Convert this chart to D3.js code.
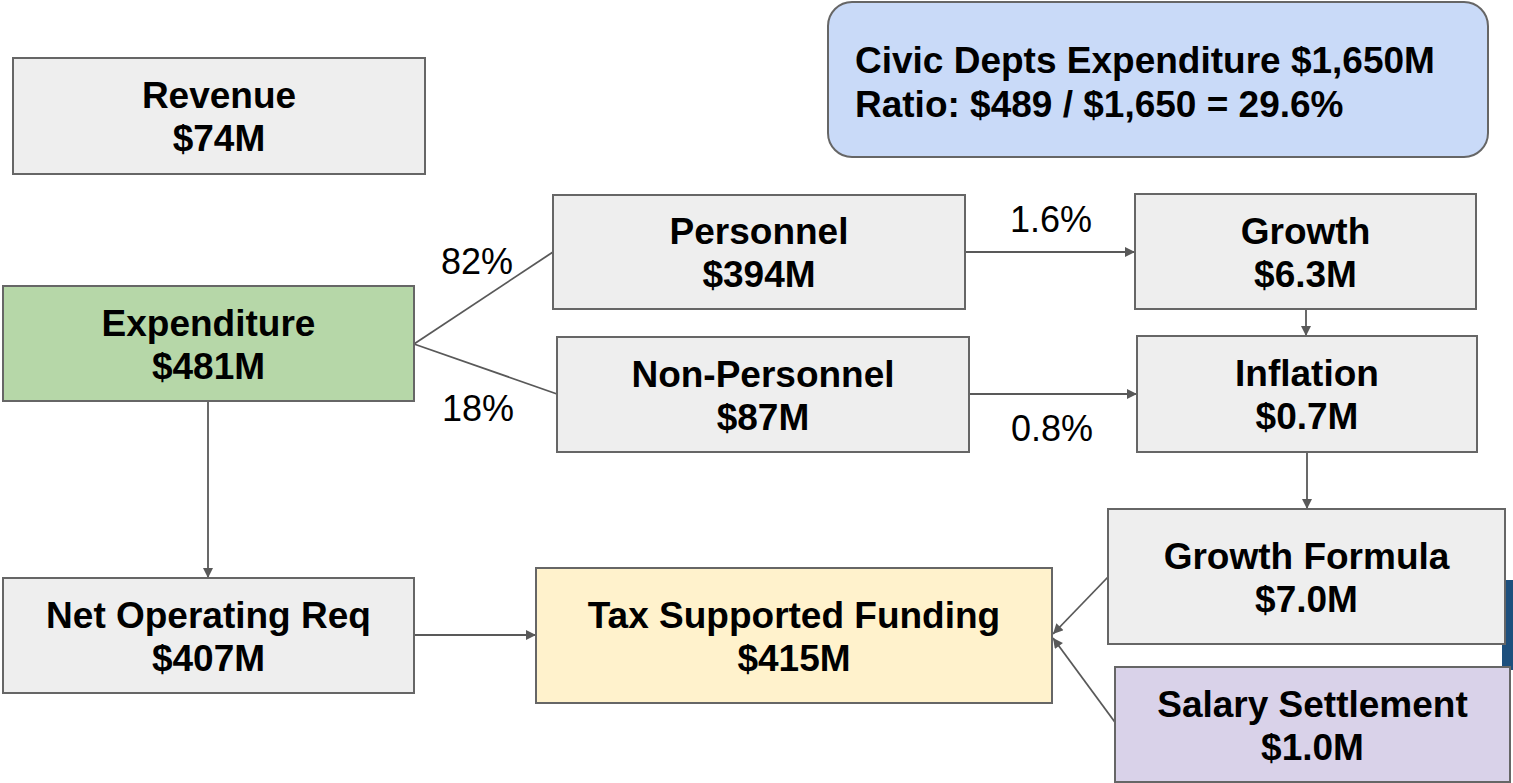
<!DOCTYPE html>
<html>
<head>
<meta charset="utf-8">
<script src="https://cdn.jsdelivr.net/npm/d3@7"></script>
<style>
  html, body { margin: 0; padding: 0; background: #fff; }
  svg { display: block; font-family: "Liberation Sans", Arial, sans-serif; }
</style>
</head>
<body>
<div id="chart"></div>
<script>
// Datos del diagrama
const nodeNames = ["Revenue", "Expenditure", "Personnel", "Non-Personnel", "Growth", "Inflation",
                   "Growth Formula", "Net Operating Req", "Tax Supported Funding", "Salary Settlement"];
const nodeValues = ["$74M", "$481M", "$394M", "$87M", "$6.3M", "$0.7M", "$7.0M", "$407M", "$415M", "$1.0M"];
const nodeKinds = ["plain", "expense", "plain", "plain", "plain", "plain", "plain", "plain", "funding", "salary"];
const noteLines = ["Civic Depts Expenditure $1,650M", "Ratio: $489 / $1,650 = 29.6%"];
const shareLabels = ["82%", "18%", "1.6%", "0.8%"];
// enlaces: [origen, destino]
const linkFrom = ["Expenditure", "Expenditure", "Personnel", "Non-Personnel", "Growth", "Inflation",
                  "Expenditure", "Net Operating Req", "Growth Formula", "Salary Settlement"];
const linkTo = ["Personnel", "Non-Personnel", "Growth", "Inflation", "Inflation", "Growth Formula",
                "Net Operating Req", "Tax Supported Funding", "Tax Supported Funding", "Tax Supported Funding"];

// Disposición (posiciones en pantalla)
const W = 1513, H = 783;
const boxLayout = {
  "Revenue":               [13, 58, 412, 116],
  "Expenditure":           [3, 286, 411, 115],
  "Personnel":             [553, 195, 412, 114],
  "Non-Personnel":         [557, 337, 412, 115],
  "Growth":                [1135, 194, 341, 115],
  "Inflation":             [1137, 336, 340, 116],
  "Growth Formula":        [1108, 509, 397, 135],
  "Net Operating Req":     [3, 578, 411, 115],
  "Tax Supported Funding": [536, 568, 516, 135],
  "Salary Settlement":     [1115, 667, 395, 115]
};
// puntos de anclaje de cada enlace [x1, y1, x2, y2, flecha]
const linkLayout = [
  [414, 344, 553, 252, false],
  [414, 344, 557, 394, false],
  [965, 252, 1135, 252, true],
  [969, 394, 1137, 394, true],
  [1306, 309, 1306, 336, true],
  [1307, 452, 1307, 509, true],
  [208, 401, 208, 578, true],
  [414, 635, 536, 635, true],
  [1108, 577, 1053, 634, true],
  [1117, 725, 1053, 638, true]
];
const labelLayout = [[477, 274], [478, 421], [1051, 232], [1052, 441]];
const noteLayout = { x: 828, y: 2, w: 660, h: 155, tx: 855, ty: [73, 117] };

const fills = { plain: "#eeeeee", expense: "#b6d7a8", funding: "#fff2cc", salary: "#d9d2e9" };

const svg = d3.select("#chart").append("svg")
  .attr("width", W)
  .attr("height", H);

svg.append("defs").append("marker")
  .attr("id", "arrow")
  .attr("viewBox", "0 0 10 10")
  .attr("refX", 10)
  .attr("refY", 5)
  .attr("markerUnits", "userSpaceOnUse")
  .attr("markerWidth", 12)
  .attr("markerHeight", 10)
  .attr("orient", "auto")
  .append("path")
  .attr("d", "M0,0 L10,5 L0,10 Z")
  .attr("fill", "#595959");

// Fragmento azul en el borde derecho (detrás de las cajas)
svg.append("rect")
  .attr("x", 1502).attr("y", 580)
  .attr("width", 11).attr("height", 90)
  .attr("fill", "#1d4f7d");

// Enlaces
svg.selectAll("line.link")
  .data(linkFrom.map((f, i) => ({ from: f, to: linkTo[i], pos: linkLayout[i] })))
  .enter()
  .append("line")
  .attr("class", "link")
  .attr("x1", d => d.pos[0]).attr("y1", d => d.pos[1])
  .attr("x2", d => d.pos[2]).attr("y2", d => d.pos[3])
  .attr("stroke", "#595959")
  .attr("stroke-width", 1.8)
  .attr("marker-end", d => d.pos[4] ? "url(#arrow)" : null);

// Cajas
const nodes = nodeNames.map((n, i) => ({ name: n, value: nodeValues[i], kind: nodeKinds[i], box: boxLayout[n] }));

const g = svg.selectAll("g.node")
  .data(nodes)
  .enter()
  .append("g")
  .attr("class", "node")
  .attr("transform", d => `translate(${d.box[0]}, ${d.box[1]})`);

g.append("rect")
  .attr("width", d => d.box[2])
  .attr("height", d => d.box[3])
  .attr("fill", d => fills[d.kind])
  .attr("stroke", "#666666")
  .attr("stroke-width", 2);

g.append("text")
  .attr("x", d => d.box[2] / 2)
  .attr("y", d => d.box[3] / 2 - 8)
  .attr("text-anchor", "middle")
  .style("font-size", "37px")
  .style("font-weight", "bold")
  .text(d => d.name);

g.append("text")
  .attr("x", d => d.box[2] / 2)
  .attr("y", d => d.box[3] / 2 + 35)
  .attr("text-anchor", "middle")
  .style("font-size", "37px")
  .style("font-weight", "bold")
  .text(d => d.value);

// Porcentajes
svg.selectAll("text.share")
  .data(shareLabels)
  .enter()
  .append("text")
  .attr("class", "share")
  .attr("x", (d, i) => labelLayout[i][0])
  .attr("y", (d, i) => labelLayout[i][1])
  .attr("text-anchor", "middle")
  .style("font-size", "36px")
  .text(d => d);

// Nota de gasto cívico
svg.append("rect")
  .attr("x", noteLayout.x).attr("y", noteLayout.y)
  .attr("width", noteLayout.w).attr("height", noteLayout.h)
  .attr("rx", 24).attr("ry", 24)
  .attr("fill", "#c9daf8")
  .attr("stroke", "#666666")
  .attr("stroke-width", 2);

svg.selectAll("text.note")
  .data(noteLines)
  .enter()
  .append("text")
  .attr("class", "note")
  .attr("x", noteLayout.tx)
  .attr("y", (d, i) => noteLayout.ty[i])
  .style("font-size", "37px")
  .style("font-weight", "bold")
  .text(d => d);
</script>
</body>
</html>
